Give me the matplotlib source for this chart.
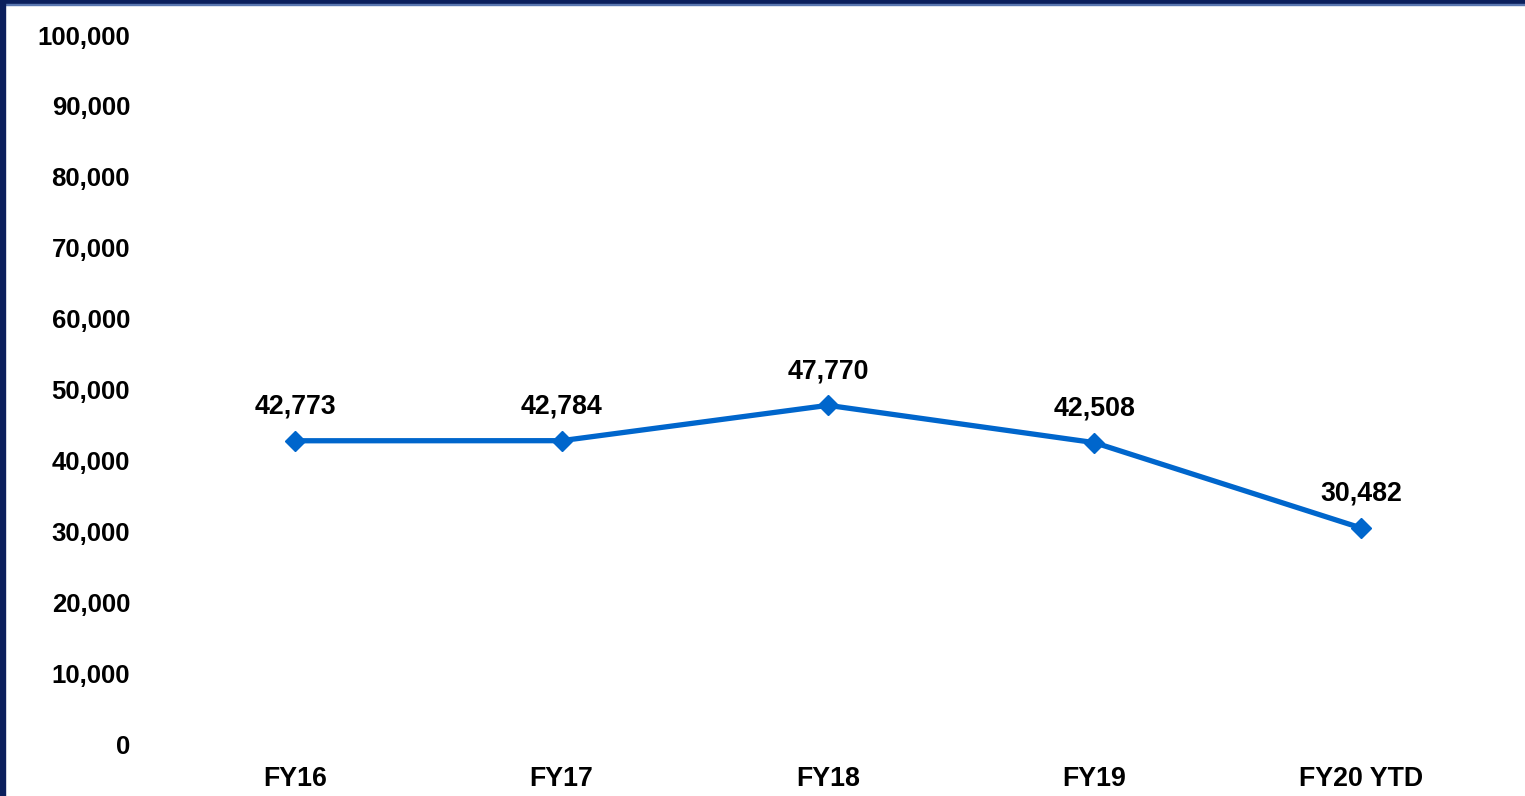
import matplotlib.pyplot as plt
from matplotlib.patches import Rectangle
from matplotlib.ticker import FuncFormatter

plt.rcParams['font.family'] = ['Liberation Sans', 'DejaVu Sans']

categories = ["FY16", "FY17", "FY18", "FY19", "FY20 YTD"]
values = [42773, 42784, 47770, 42508, 30482]
y_ticks = list(range(0, 100001, 10000))

fig = plt.figure(figsize=(15.25, 7.96), dpi=100)
ax = fig.add_axes([0.1062, 0.0653, 0.8735, 0.8907])

x = list(range(len(categories)))
ax.plot(x, values, color="#0066CC", linewidth=3.8, marker="D", markersize=10,
        solid_capstyle="butt")

for xi, v in zip(x, values):
    ax.annotate(f"{v:,}", (xi, v), xytext=(0, 24.5), textcoords="offset points",
                ha="center", va="center", fontsize=19.3, fontweight="bold")

ax.set_xlim(-0.5, len(categories) - 0.5)
ax.set_ylim(0, 100000)
ax.set_xticks(x)
ax.set_xticklabels(categories, fontsize=19.3, fontweight="bold")
ax.set_yticks(y_ticks)
ax.yaxis.set_major_formatter(FuncFormatter(lambda v, p: f"{int(v):,}"))
for lab in ax.get_yticklabels():
    lab.set_fontsize(18.5)
    lab.set_fontweight("bold")
ax.tick_params(axis="x", length=0, pad=16)
ax.tick_params(axis="y", length=0, pad=23)
for s in ax.spines.values():
    s.set_visible(False)

# dark frame along the top and left edge
fig.patches.append(Rectangle((0, 1 - 4 / 796), 1, 4 / 796, transform=fig.transFigure,
                             color="#0B1F5C", zorder=10))
fig.patches.append(Rectangle((0, 1 - 5 / 796), 1, 1.2 / 796, transform=fig.transFigure,
                             color="#5A77B0", zorder=10))
fig.patches.append(Rectangle((0, 0), 5 / 1525, 1, transform=fig.transFigure,
                             color="#0B1F5C", zorder=10))

fig.savefig("out.png", dpi=100)
